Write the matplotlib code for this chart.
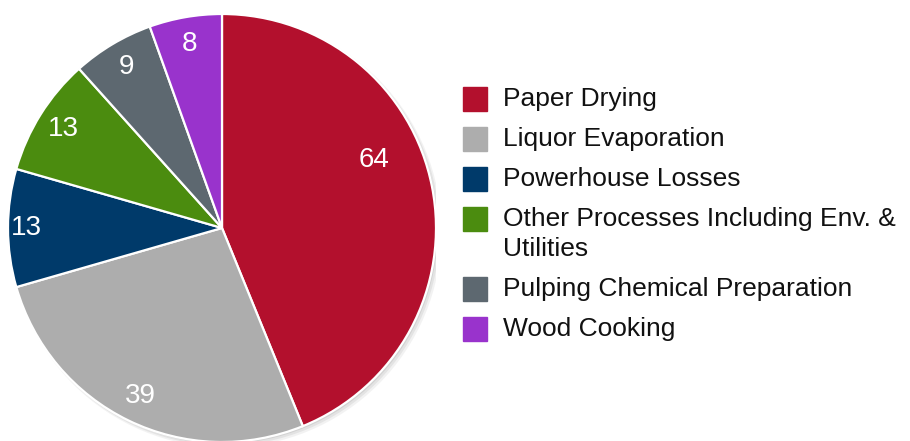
import matplotlib.pyplot as plt
import matplotlib.patches as mpatches
import numpy as np

labels = ["Paper Drying", "Liquor Evaporation", "Powerhouse Losses",
          "Other Processes Including Env. &\nUtilities",
          "Pulping Chemical Preparation", "Wood Cooking"]
values = [64, 39, 13, 13, 9, 8]
colors = ["#B3102D", "#ADADAD", "#003A6A", "#4B8C0F", "#5D6870", "#9933CC"]

plt.rcParams['font.family'] = ['Liberation Sans', 'DejaVu Sans']

fig = plt.figure(figsize=(9.10, 4.41), dpi=100)

# pie axes: center at (222, 228) px, radius 214 px
R = 214
cx, cy = 222, 441 - 228
ax = fig.add_axes([(cx - R) / 910, (cy - R) / 441, 2 * R / 910, 2 * R / 441])

# soft shadow behind the pie
for i, a in enumerate([0.10, 0.14, 0.18]):
    off = 0.018 - i * 0.005
    ax.add_patch(mpatches.Circle((off, -off), 1.0 + 0.004 * (2 - i),
                                 color="#888888", alpha=a, lw=0, zorder=0))

wedges, texts = ax.pie(values, colors=colors, startangle=90, counterclock=False,
                       labels=[str(v) for v in values], labeldistance=0.875,
                       wedgeprops=dict(edgecolor="white", linewidth=1.6),
                       textprops=dict(color="white", fontsize=20))
for t in texts:
    t.set_ha("center")
    t.set_va("center")
# a couple of labels sit off the default spot
ang = np.deg2rad(24)
texts[0].set_position((0.78 * np.cos(ang), 0.78 * np.sin(ang)))
x2, y2 = texts[2].get_position()
texts[2].set_position((x2 * 0.915 / 0.875, y2 * 0.915 / 0.875))

ax.set_xlim(-1, 1)
ax.set_ylim(-1, 1)
ax.set_aspect("equal")
ax.axis("off")

# legend drawn by hand
y = 99
for lab, col in zip(labels, colors):
    fig.patches.append(mpatches.Rectangle((463 / 910, (441 - y - 12) / 441), 24 / 910, 24 / 441,
                                          transform=fig.transFigure, color=col))
    lines = lab.split("\n")
    for k, line in enumerate(lines):
        fig.text(503 / 910, (441 - y - 30 * k) / 441, line, fontsize=19,
                 color="#111111", va="center", ha="left")
    y += 40 + 30 * (len(lines) - 1)

fig.savefig("out.png", dpi=100)
